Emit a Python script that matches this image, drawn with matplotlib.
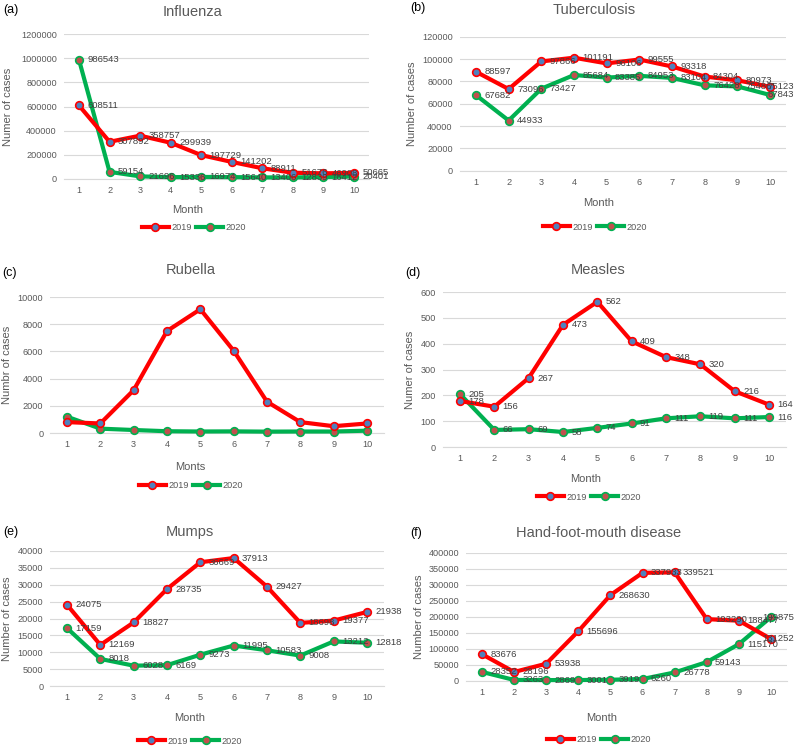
import matplotlib.pyplot as plt
import matplotlib
from matplotlib.lines import Line2D
from matplotlib.ticker import StrMethodFormatter

matplotlib.rcParams.update({"font.family": ["Liberation Sans", "DejaVu Sans"]})

W, H = 797, 749
months = list(range(1, 11))

flu_2019 = [608511, 307892, 358757, 299939, 197729, 141202, 88911, 51676, 46908, 50665]
flu_2020 = [986543, 59154, 21696, 15336, 16974, 15640, 13406, 12839, 16412, 20401]

tb_2019 = [88597, 73096, 97866, 101191, 96106, 99555, 93318, 84304, 80973, 75123]
tb_2020 = [67682, 44933, 73427, 85684, 83385, 84953, 83104, 76428, 75486, 67843]

rub_2019 = [800, 700, 3150, 7500, 9100, 6050, 2300, 800, 500, 700]
rub_2020 = [1200, 320, 220, 130, 110, 120, 100, 110, 110, 170]

mea_2019 = [178, 156, 267, 473, 562, 409, 348, 320, 216, 164]
mea_2020 = [205, 66, 69, 58, 74, 91, 111, 119, 111, 116]

mum_2019 = [24075, 12169, 18827, 28735, 36669, 37913, 29427, 18698, 19377, 21938]
mum_2020 = [17159, 8018, 6028, 6169, 9273, 11995, 10583, 9008, 13212, 12818]

hfm_2019 = [83676, 28196, 53938, 155696, 268630, 337933, 339521, 193290, 188477, 131252]
hfm_2020 = [28352, 3263, 2869, 3001, 3919, 6260, 26778, 59143, 115170, 199875]

# letter, title, ylabel, xlabel, 2019, 2020, ymax, step, data labels,
# (x of month 1, x of month 10, y of top grid, y of zero),
# (title x, title y), letter pos, ylabel x, (xlabel x, xlabel y), (legend x, legend y)
# all in pixels from top-left
panels = [
    ("(a)", "Influenza", "Numer of cases", "Month", flu_2019, flu_2020, 1200000, 200000, True,
     (79, 354, 34, 179), (193, 12), (3, 10), 8, (188, 210), (194, 228)),
    ("(b)", "Tuberculosis", "Number of cases", "Month", tb_2019, tb_2020, 120000, 20000, True,
     (476, 770, 36.7, 170.7), (594, 10), (410, 8), 412, (599, 203), (595, 227)),
    ("(c)", "Rubella", "Numbr of cases", "Monts", rub_2019, rub_2020, 10000, 2000, False,
     (67, 367, 297, 433), (191, 270), (2, 273), 7, (190, 467), (191, 486)),
    ("(d)", "Measles", "Numer of cases", "Month", mea_2019, mea_2020, 600, 100, True,
     (460, 769, 292, 447), (598, 270), (405, 273), 410, (586, 479), (589, 497)),
    ("(e)", "Mumps", "Number of cases", "Month", mum_2019, mum_2020, 40000, 5000, True,
     (67, 367, 551, 686), (190, 532), (3, 532), 7, (190, 718), (190, 741)),
    ("(f)", "Hand-foot-mouth disease", "Number of cases", "Month", hfm_2019, hfm_2020, 400000, 50000, True,
     (482, 771, 553, 681), (599, 533), (410, 533), 419, (602, 718), (599, 740)),
]

red = "#FF0000"
green = "#00B050"
grey = "#595959"
style19 = dict(color=red, lw=3, marker="o", ms=5.5, mfc="#4F81BD", mec=red, mew=1.2)
style20 = dict(color=green, lw=3, marker="o", ms=5.5, mfc="#C0504D", mec=green, mew=1.2)

fig = plt.figure(figsize=(W / 100, H / 100), dpi=100)
all_labels = []

for (letter, title, ylab, xlab, d19, d20, ymax, step, labels,
     box, tpos, lpos, ylx, xlpos, legpos) in panels:
    m1, m10, yt, yb = box
    s = (m10 - m1) / 9
    x0, x1 = m1 - s / 2, m10 + s / 2
    ax = fig.add_axes([x0 / W, 1 - yb / H, (x1 - x0) / W, (yb - yt) / H])
    ax.plot(months, d20, zorder=3, clip_on=False, **style20)
    ax.plot(months, d19, zorder=4, clip_on=False, **style19)
    if labels:
        for series in (d19, d20):
            for m, v in zip(months, series):
                t = ax.annotate(str(v), (m, v), xytext=(6, 0), textcoords="offset points",
                                ha="left", va="center", fontsize=6.8, color="#404040",
                                zorder=5, annotation_clip=False)
                all_labels.append(t)
    ax.set_xlim(0.5, 10.5)
    ax.set_ylim(0, ymax)
    ax.set_xticks(months)
    ax.set_yticks(range(0, ymax + 1, step))
    ax.yaxis.set_major_formatter(StrMethodFormatter("{x:.0f}"))
    ax.grid(axis="y", color="#D9D9D9", lw=0.8)
    ax.set_axisbelow(True)
    for sp in ["top", "right", "left"]:
        ax.spines[sp].set_visible(False)
    ax.spines["bottom"].set_color("#D9D9D9")
    ax.tick_params(length=0, labelsize=6.6, colors=grey, pad=5)

    fig.text(tpos[0] / W, 1 - tpos[1] / H, title, ha="center", va="center", fontsize=10.5, color=grey)
    fig.text(lpos[0] / W, 1 - lpos[1] / H, letter, ha="left", va="center", fontsize=9, color="black")
    fig.text(ylx / W, 1 - (yt + yb) / 2 / H, ylab, rotation=90, ha="center", va="center",
             fontsize=8, color=grey)
    fig.text(xlpos[0] / W, 1 - xlpos[1] / H, xlab, ha="center", va="center", fontsize=8, color=grey)

    handles = [Line2D([], [], **style19), Line2D([], [], **style20)]
    fig.legend(handles, ["2019", "2020"], loc="center",
               bbox_to_anchor=(legpos[0] / W, 1 - legpos[1] / H),
               ncol=2, frameon=False, fontsize=6.6, labelcolor=grey, handlelength=2.9,
               columnspacing=0.5, handletextpad=0.3)

# pull labels that run past the right edge back inside, as the reference does
fig.canvas.draw()
r = fig.canvas.get_renderer()
for t in all_labels:
    bb = t.get_window_extent(r)
    over = bb.x1 - (W - 3)
    if over > 0:
        ox, oy = t.xyann
        t.xyann = (ox - over * 72 / 100, oy)

fig.savefig("out.png", dpi=100)
